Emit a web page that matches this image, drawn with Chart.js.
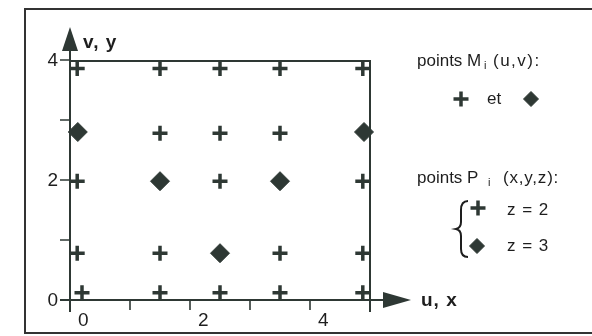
<!DOCTYPE html>
<html>
<head>
<meta charset="utf-8">
<script src="https://cdn.jsdelivr.net/npm/chart.js@4/dist/chart.umd.min.js"></script>
<style>
  html, body { margin: 0; padding: 0; background: #fff; }
  #grid-chart { display: block; }
</style>
</head>
<body>
<canvas id="grid-chart" width="592" height="336"></canvas>
<script>
'use strict';

// points M_i (u,v) with z = 2 (drawn as crosses)
const crossU = [0.12, 1.5, 2.5, 3.5, 4.88, 1.5, 2.5, 3.5, 0.12, 2.5, 4.88, 0.12, 1.5, 3.5, 4.88, 0.2, 1.5, 2.5, 3.5, 4.88];
const crossV = [3.86, 3.86, 3.86, 3.86, 3.86, 2.78, 2.78, 2.78, 1.98, 1.98, 1.98, 0.78, 0.78, 0.78, 0.78, 0.12, 0.12, 0.12, 0.12, 0.12];

// points with z = 3 (drawn as diamonds)
const diamondU = [0.13, 4.9, 1.5, 3.5, 2.5];
const diamondV = [2.8, 2.8, 1.98, 1.98, 0.78];

const xTickValues = [1, 2, 3, 4];
const yTickValues = [0, 1, 2, 3, 4];
const xTickLabels = ['0', '2', '4'];
const yTickLabels = ['0', '2', '4'];

const INK = '#2e3834';
const TEXT = '#1e1e1e';
const FONT = '"Liberation Sans", Arial, sans-serif';

const chartContext = document.querySelector('#grid-chart').getContext('2d');

const crossPoints = crossU.map((u, i) => ({ x: u, y: crossV[i] }));
const diamondPoints = diamondU.map((u, i) => ({ x: u, y: diamondV[i] }));

const crossStyle = { pointStyle: 'cross', radius: 7.5, borderWidth: 3.5 };
const diamondStyle = { pointStyle: 'rectRot', radius: 9.5, borderWidth: 1 };

function arrowHead(ctx, x, y, dir) {
  ctx.beginPath();
  if (dir === 'up') {
    ctx.moveTo(x, y);
    ctx.lineTo(x - 8, y + 24);
    ctx.lineTo(x + 8, y + 24);
  } else {
    ctx.moveTo(x, y);
    ctx.lineTo(x - 28, y - 8);
    ctx.lineTo(x - 28, y + 8);
  }
  ctx.closePath();
  ctx.fill();
}

// "points X_i (...)" heading, pieces placed at fixed x positions
function legendHeading(ctx, name, indexX, coords, coordsX, coordsSpacing, y) {
  ctx.font = '17px ' + FONT;
  ctx.letterSpacing = '0px';
  ctx.fillText(name, 417, y);
  ctx.font = '11px ' + FONT;
  ctx.fillText('i', indexX, y + 5);
  ctx.font = '17px ' + FONT;
  ctx.letterSpacing = coordsSpacing + 'px';
  ctx.fillText(coords, coordsX, y);
  ctx.letterSpacing = '0px';
}

function legendMark(ctx, style, x, y) {
  ctx.save();
  ctx.strokeStyle = INK;
  ctx.fillStyle = INK;
  ctx.lineWidth = style.borderWidth;
  Chart.helpers.drawPoint(ctx, style, x, y);
  ctx.restore();
}

const axesPlugin = {
  id: 'uvAxes',
  beforeDatasetsDraw(chart) {
    const ctx = chart.ctx;
    const xs = chart.scales.x;
    const ys = chart.scales.y;
    const x0 = xs.getPixelForValue(0);
    const x5 = xs.getPixelForValue(5);
    const y0 = ys.getPixelForValue(0);
    const y4 = ys.getPixelForValue(4);

    ctx.save();
    // outer frame
    ctx.strokeStyle = '#333';
    ctx.lineWidth = 2;
    ctx.strokeRect(25, 9, 580, 324);

    ctx.strokeStyle = INK;
    ctx.fillStyle = INK;
    ctx.lineWidth = 2;
    ctx.beginPath();
    // v axis
    ctx.moveTo(x0, y0 + 12);
    ctx.lineTo(x0, 40);
    // u axis
    ctx.moveTo(x0 - 10, y0);
    ctx.lineTo(385, y0);
    // domain border u = 5, v = 4
    ctx.moveTo(x0, y4 + 1);
    ctx.lineTo(x5, y4 + 1);
    ctx.lineTo(x5, y0 + 12);
    ctx.stroke();

    ctx.lineWidth = 1.6;
    ctx.beginPath();
    yTickValues.forEach((v) => {
      const y = ys.getPixelForValue(v);
      ctx.moveTo(x0 - 10, y);
      ctx.lineTo(x0, y);
    });
    xTickValues.forEach((u) => {
      const x = xs.getPixelForValue(u);
      ctx.moveTo(x, y0);
      ctx.lineTo(x, y0 + 10);
    });
    ctx.stroke();

    arrowHead(ctx, x0, 27, 'up');
    arrowHead(ctx, 411, y0, 'right');

    // tick labels
    ctx.fillStyle = TEXT;
    ctx.font = '19px ' + FONT;
    ctx.textBaseline = 'middle';
    ctx.textAlign = 'right';
    yTickLabels.forEach((label, i) => {
      ctx.fillText(label, x0 - 12, ys.getPixelForValue(i * 2) + 1);
    });
    ctx.textAlign = 'left';
    xTickLabels.forEach((label, i) => {
      ctx.fillText(label, xs.getPixelForValue(i * 2) + 8, y0 + 21);
    });

    // axis names
    ctx.font = 'bold 19px ' + FONT;
    ctx.letterSpacing = '1px';
    ctx.fillText('v, y', x0 + 13, 43);
    ctx.fillText('u, x', 421, y0 + 1);
    ctx.letterSpacing = '0px';

    // legend
    legendHeading(ctx, 'points M', 484, '(u,v):', 493, 1.5, 61);
    ctx.font = '17px ' + FONT;
    ctx.fillText('et', 487, 99);
    legendHeading(ctx, 'points P', 488, '(x,y,z):', 503, 0.8, 178);
    ctx.font = '17px ' + FONT;
    ctx.letterSpacing = '1px';
    ctx.fillText('z = 2', 507, 210);
    ctx.fillText('z = 3', 507, 246);
    ctx.letterSpacing = '0px';

    // brace in front of the z rows
    ctx.strokeStyle = TEXT;
    ctx.lineWidth = 2;
    ctx.beginPath();
    ctx.moveTo(468, 201);
    ctx.quadraticCurveTo(461, 201, 461, 210);
    ctx.lineTo(461, 222);
    ctx.quadraticCurveTo(461, 228, 456, 229);
    ctx.quadraticCurveTo(461, 230, 461, 236);
    ctx.lineTo(461, 249);
    ctx.quadraticCurveTo(461, 257, 468, 257);
    ctx.stroke();

    ctx.restore();

    legendMark(ctx, crossStyle, 461, 99);
    legendMark(ctx, { ...diamondStyle, radius: 7.5 }, 531, 99);
    legendMark(ctx, crossStyle, 478, 208);
    legendMark(ctx, { ...diamondStyle, radius: 7.5 }, 477, 246);
  },
};

const chartConfig = {
  type: 'scatter',
  data: {
    datasets: [
      {
        label: 'z = 2',
        data: crossPoints,
        pointStyle: crossStyle.pointStyle,
        pointRadius: crossStyle.radius,
        pointBorderWidth: crossStyle.borderWidth,
        pointBorderColor: INK,
        pointBackgroundColor: INK,
      },
      {
        label: 'z = 3',
        data: diamondPoints,
        pointStyle: diamondStyle.pointStyle,
        pointRadius: diamondStyle.radius,
        pointBorderWidth: diamondStyle.borderWidth,
        pointBorderColor: INK,
        pointBackgroundColor: INK,
      },
    ],
  },
  options: {
    responsive: false,
    devicePixelRatio: 1,
    animation: false,
    layout: { padding: 0, autoPadding: false },
    scales: {
      x: { type: 'linear', display: false, min: -70 / 60, max: 522 / 60 },
      y: { type: 'linear', display: false, min: -36 / 60, max: 300 / 60 },
    },
    plugins: {
      legend: { display: false },
      tooltip: { enabled: false },
    },
    events: [],
  },
  plugins: [axesPlugin],
};

const chart = new Chart(chartContext, chartConfig);
</script>
</body>
</html>
